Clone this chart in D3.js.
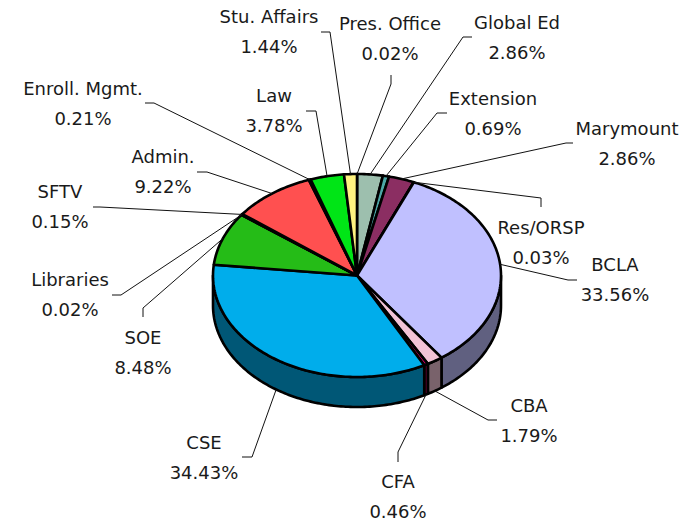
<!DOCTYPE html>
<html lang="en">
<head>
<meta charset="UTF-8">
<title>Pie</title>
<script src="https://d3js.org/d3.v7.min.js"></script>
<style>
    body { margin: 0; background: #fff; }
    svg { display: block; }
    text { font-family: "DejaVu Sans", sans-serif; font-size: 18px; fill: #1a1a1a; text-anchor: middle; }
</style>
</head>
<body>
<div id="chart"></div>
<script>
// clockwise from 12 o'clock
var names = ["Pres. Office", "Global Ed", "Extension", "Marymount", "Res/ORSP", "BCLA", "CBA", "CFA", "CSE", "SOE", "Libraries", "SFTV", "Admin.", "Enroll. Mgmt.", "Law", "Stu. Affairs"];
var values = [0.02, 2.86, 0.69, 2.86, 0.03, 33.56, 1.79, 0.46, 34.43, 8.48, 0.02, 0.15, 9.22, 0.21, 3.78, 1.44];
var colors = ["#ffffff", "#9dbfae", "#4da6a6", "#8b2e62", "#ffffff", "#c0c0ff", "#f2c3d6", "#cc0066", "#00adeb", "#25bc17", "#ffffff", "#ffffff", "#ff5050", "#ffffff", "#00e516", "#fff380"];

// label centre and first baseline
var labelX = [390, 517, 493, 627, 541, 615, 529, 398, 204, 143, 70, 60, 163, 83, 274, 269];
var labelY = [30, 29, 105, 135, 234, 271, 412, 488, 449, 344, 286, 198, 163, 95, 102, 23];
// leader line: elbow, then end
var elbows = [[391, 84], [463, 37], [437, 113], [566, 143], [541, 198], [568, 280], [488, 420], [398, 452], [252, 457], [143, 308], [121, 295], [100, 207], [207, 172], [154, 103], [316, 111], [330, 32]];
var ends = [[391, 75], [472, 37], [447, 113], [573, 143], [541, 207], [577, 280], [497, 420], [398, 462], [242, 457], [143, 317], [112, 295], [93, 207], [197, 172], [145, 103], [306, 111], [321, 32]];

var width = 690, height = 521, depth = 30;

var x = d3.scaleLinear().domain([-1, 1]).range([213, 501]);
var y = d3.scaleLinear().domain([-1, 1]).range([174, 377]);

var svg = d3.select("#chart").append("svg")
    .attr("width", width)
    .attr("height", height);

var pie = d3.pie().sort(null).value(function (d) { return d; });
var slices = pie(values);

var line = d3.line();

function px(a) { return x(Math.sin(a)); }
function py(a) { return y(-Math.cos(a)); }

// points along the rim between two angles
function rim(a0, a1, dy) {
    var n = Math.max(2, Math.ceil((a1 - a0) * 60));
    return d3.range(n + 1).map(function (i) {
        var a = a0 + (a1 - a0) * i / n;
        return [px(a), py(a) + dy];
    });
}

// side walls, only the front half shows
slices.forEach(function (s, i) {
    var a0 = Math.max(s.startAngle, Math.PI / 2);
    var a1 = Math.min(s.endAngle, Math.PI * 1.5);
    if (a1 <= a0) return;
    var c = d3.rgb(colors[i]);
    var pts = rim(a0, a1, 0).concat(rim(a0, a1, depth).reverse());
    svg.append("path")
        .attr("d", line(pts) + "Z")
        .attr("fill", d3.rgb(c.r / 2, c.g / 2, c.b / 2))
        .attr("stroke", "#000")
        .attr("stroke-width", 2.6)
        .attr("stroke-linejoin", "round");
});

// top faces
slices.forEach(function (s, i) {
    var pts = [[x(0), y(0)]].concat(rim(s.startAngle, s.endAngle, 0));
    svg.append("path")
        .attr("d", line(pts) + "Z")
        .attr("fill", colors[i])
        .attr("stroke", "#000")
        .attr("stroke-width", 2.6)
        .attr("stroke-linejoin", "round");
});

// leader lines and labels
slices.forEach(function (s, i) {
    var mid = (s.startAngle + s.endAngle) / 2;
    var dy = Math.cos(mid) < 0 ? depth : 0;
    svg.append("path")
        .attr("d", line([[px(mid), py(mid) + dy], elbows[i], ends[i]]))
        .attr("fill", "none")
        .attr("stroke", "#111")
        .attr("stroke-width", 1);

    svg.append("text").attr("x", labelX[i]).attr("y", labelY[i]).text(names[i]);
    svg.append("text").attr("x", labelX[i]).attr("y", labelY[i] + 30).text(values[i].toFixed(2) + "%");
});
</script>
</body>
</html>
